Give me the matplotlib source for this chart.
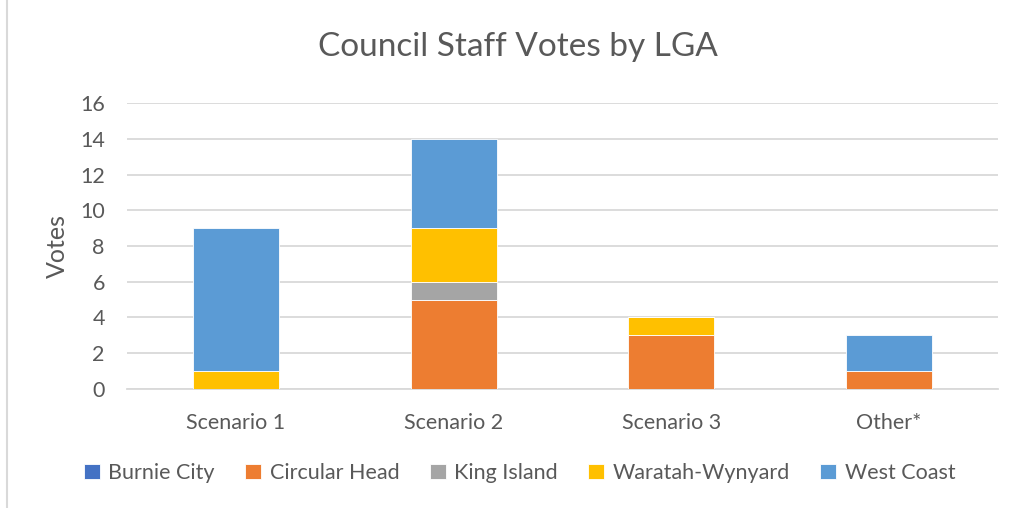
import matplotlib
matplotlib.use('Agg')
import matplotlib.pyplot as plt
import numpy as np

plt.rcParams['font.family'] = ['Lato', 'DejaVu Sans']

categories = ['Scenario 1', 'Scenario 2', 'Scenario 3', 'Other*']
series_names = ['Burnie City', 'Circular Head', 'King Island', 'Waratah-Wynyard', 'West Coast']
burnie_city = [0, 0, 0, 0]
circular_head = [0, 5, 3, 1]
king_island = [0, 1, 0, 0]
waratah_wynyard = [1, 3, 1, 0]
west_coast = [8, 5, 0, 2]
colors = ['#4472C4', '#ED7D31', '#A5A5A5', '#FFC000', '#5B9BD5']

series = [burnie_city, circular_head, king_island, waratah_wynyard, west_coast]

fig = plt.figure(figsize=(10.15, 5.08), dpi=100)
ax = fig.add_axes([0.1251, 0.2343, 0.8582, 0.5629])

x = np.arange(len(categories))
bottom = np.zeros(len(categories))
handles = []
for name, vals, c in zip(series_names, series, colors):
    b = ax.bar(x, vals, 0.395, bottom=bottom, color=c, edgecolor='white',
               linewidth=0.6, label=name, zorder=3)
    handles.append(b)
    bottom += np.array(vals)

ax.set_xlim(-0.5, 3.5)
ax.set_ylim(0, 16)
ax.set_yticks(range(0, 17, 2))
ax.set_xticks(x)
ax.set_xticklabels(categories)
ax.grid(axis='y', color='#D9D9D9', linewidth=1.3, zorder=0)
for s in ['top', 'right', 'left']:
    ax.spines[s].set_visible(False)
ax.spines['bottom'].set_color('#D9D9D9')
ax.spines['bottom'].set_linewidth(1.3)
ax.tick_params(axis='both', length=0, labelsize=15.5, colors='#595959')
ax.tick_params(axis='x', pad=17)
ax.tick_params(axis='y', pad=16)
ax.set_ylabel('Votes', fontsize=18, color='#595959', labelpad=8)

fig.text(0.51, 0.907, 'Council Staff Votes by LGA', fontsize=24, color='#595959',
         ha='center', va='center')

leg = fig.legend(handles=handles, labels=series_names, loc='center', ncol=5,
                 bbox_to_anchor=(0.512, 0.069), frameon=False, fontsize=15.5,
                 handlelength=0.75, handleheight=0.75, handletextpad=0.4,
                 columnspacing=1.4)
for t in leg.get_texts():
    t.set_color('#595959')

# left border of chart area
fig.add_artist(plt.Line2D([0.0069, 0.0069], [0, 1], color='#D9D9D9', linewidth=1.5))

fig.savefig('out.png', dpi=100)
